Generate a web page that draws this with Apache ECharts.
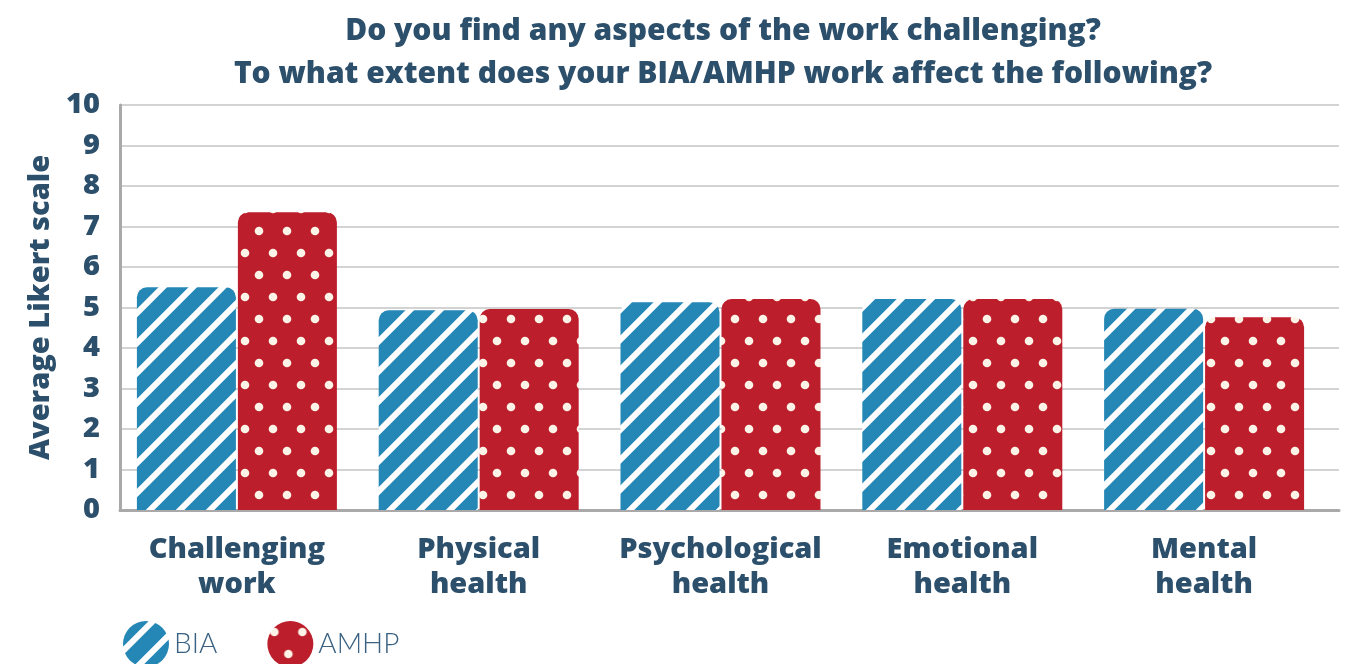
<!DOCTYPE html>
<html>
<head>
<meta charset="utf-8">
<script src="https://cdn.jsdelivr.net/npm/echarts@6/dist/echarts.min.js"></script>
<style>
html,body{margin:0;padding:0;background:#fff;}
#main{width:1349px;height:664px;}
</style>
</head>
<body>
<div id="main"></div>
<script>
const titleLines = ['Do you find any aspects of the work challenging?', 'To what extent does your BIA/AMHP work affect the following?'];
const categories = ['Challenging\nwork', 'Physical\nhealth', 'Psychological\nhealth', 'Emotional\nhealth', 'Mental\nhealth'];
const seriesNames = ['BIA', 'AMHP'];
const biaValues = [5.5, 4.93, 5.13, 5.21, 4.97];
const amhpValues = [7.35, 4.96, 5.21, 5.21, 4.76];
const yAxisName = 'Average Likert scale';

const TXT = '#2c4f6b';
const BLUE = '#2587b6';
const RED = '#bd1e2c';

function stripePattern() {
  const p = 30;
  const c = document.createElement('canvas');
  c.width = p; c.height = p;
  const g = c.getContext('2d');
  g.fillStyle = BLUE; g.fillRect(0, 0, p, p);
  g.strokeStyle = '#ffffff'; g.lineWidth = 6;
  for (let x0 = -p; x0 <= p; x0 += p) {
    g.beginPath(); g.moveTo(x0 - 5, p + 5); g.lineTo(x0 + p + 5, -5); g.stroke();
  }
  return c;
}
function dotPattern() {
  const w = 28, h = 44;
  const c = document.createElement('canvas');
  c.width = w; c.height = h;
  const g = c.getContext('2d');
  g.fillStyle = RED; g.fillRect(0, 0, w, h);
  g.fillStyle = '#fdf3e6';
  [[7, 11], [21, 33]].forEach(([x, y]) => { g.beginPath(); g.arc(x, y, 4.3, 0, Math.PI * 2); g.fill(); });
  return c;
}

const chart = echarts.init(document.getElementById('main'));
const FONT = '"Open Sans", Lato, sans-serif';
const W = 800;
chart.setOption({
  backgroundColor: '#fff',
  animation: false,
  title: {
    text: titleLines.join('\n'),
    left: 718, top: 5, textAlign: 'center',
    textStyle: { fontFamily: FONT, fontWeight: W, fontSize: 30, color: TXT, lineHeight: 43 }
  },
  legend: {
    left: 123, top: 621, padding: 0, itemWidth: 46, itemHeight: 46, itemGap: 50, icon: 'circle',
    data: seriesNames,
    textStyle: { fontFamily: 'Lato, sans-serif', fontWeight: 300, fontSize: 28, color: '#3b6282' }
  },
  grid: [
    { left: 116, right: 24, top: 105, bottom: 154 },
    { left: 120, right: 10, top: 105, bottom: 154 }
  ],
  xAxis: [
    {
      type: 'category', gridIndex: 0, data: categories,
      axisLine: { show: false }, axisTick: { show: false },
      axisLabel: { interval: 0, margin: 22, fontFamily: FONT, fontWeight: W, fontSize: 29, color: TXT, lineHeight: 35 }
    },
    {
      type: 'category', gridIndex: 1, data: categories,
      axisLine: { show: true, lineStyle: { color: '#a9a9a9', width: 3 } },
      axisTick: { show: false }, axisLabel: { show: false }
    }
  ],
  yAxis: [
    { type: 'value', gridIndex: 0, min: 0, max: 10, interval: 1, show: false, splitLine: { show: false } },
    {
      type: 'value', gridIndex: 1, min: 0, max: 10, interval: 1,
      name: yAxisName, nameLocation: 'middle', nameRotate: 90, nameGap: 64,
      nameTextStyle: { fontFamily: FONT, fontWeight: W, fontSize: 29, color: TXT },
      axisLine: { show: true, lineStyle: { color: '#a9a9a9', width: 3 } },
      axisTick: { show: false },
      axisLabel: { margin: 20, fontFamily: FONT, fontWeight: W, fontSize: 29, color: TXT },
      splitLine: { show: true, lineStyle: { color: '#c4c4c4', width: 1.5 } }
    }
  ],
  series: [
    {
      name: seriesNames[0], type: 'bar', xAxisIndex: 0, yAxisIndex: 0, data: biaValues,
      barWidth: 99, barGap: '2%',
      itemStyle: { color: { image: stripePattern(), repeat: 'repeat' }, borderRadius: [10, 10, 0, 0] }
    },
    {
      name: seriesNames[1], type: 'bar', xAxisIndex: 0, yAxisIndex: 0, data: amhpValues,
      barWidth: 99, barGap: '2%',
      itemStyle: { color: { image: dotPattern(), repeat: 'repeat' }, borderRadius: [10, 10, 0, 0] }
    }
  ]
});
</script>
</body>
</html>
